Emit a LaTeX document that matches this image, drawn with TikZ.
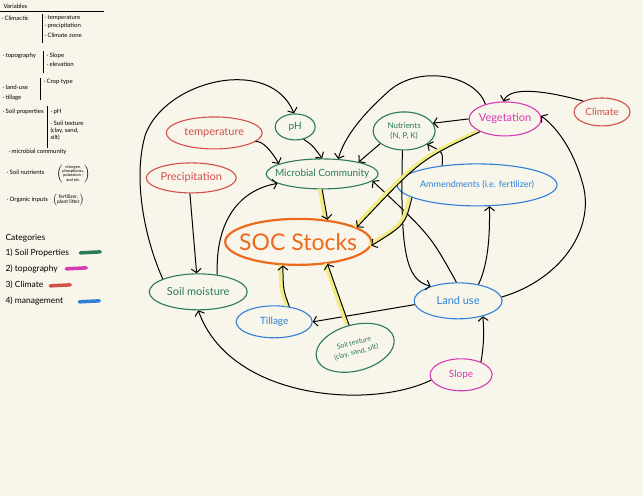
\documentclass[tikz,border=0pt]{standalone}
\usepackage{fontspec}
\setmainfont{Lato}
\usetikzlibrary{shapes,arrows.meta,calc}
\definecolor{Cream}{HTML}{F8F5EA}
\definecolor{SGreen}{HTML}{2B7A5C}
\definecolor{TPink}{HTML}{D63AB4}
\definecolor{CRed}{HTML}{D4504A}
\definecolor{MBlue}{HTML}{2F80D8}
\definecolor{SOrange}{HTML}{EC6A1E}
\definecolor{HYellow}{HTML}{F0EC80}
\tikzset{
    var/.style = {draw, ellipse, line width=1.1pt,
        inner xsep=-10pt, inner ysep=0pt, align=center},
    soil/.style = {var, draw=SGreen, text=SGreen},
    topo/.style = {var, draw=TPink, text=TPink},
    clim/.style = {var, draw=CRed, text=CRed},
    mgmt/.style = {var, draw=MBlue, text=MBlue},
    link/.style = {draw, line width=1pt, -{Straight Barb[length=4pt,width=10pt]}},
    hl/.style = {preaction={draw=HYellow, line width=3.5pt, arrows=-,
        transform canvas={shift={(-2.5pt,0.5pt)}}}},
    legend/.style = {anchor=west, inner sep=0pt, font=\fontsize{6}{7}\selectfont},
    catg/.style = {anchor=west, inner sep=0pt, font=\fontsize{8.5}{10}\selectfont},
    fs/.style = {font=\fontsize{#1}{\dimexpr #1pt*6/5\relax}\selectfont}
}

\begin{document}
\begin{tikzpicture}[x=1pt,y=-1pt]
        \fill[Cream] (0,0) rectangle (643,496);
        % variables list
        \node[legend] (varhead) at (3,6) {Variables};
        \draw[line width=0.7pt] (0,11) -- (104,11);
        \node[legend] (climactic) at (1,18) {· Climactic};
        \draw[line width=0.8pt] (42,14) -- (42,43);
        \node[legend] (v1) at (44,18) {· temperature};
        \node[legend] (v2) at (44,26) {· precipitation};
        \node[legend] (v3) at (44,35) {· Climate zone};
        \node[legend] (topogr) at (2,56) {· topography};
        \draw[line width=0.8pt] (43,51) -- (43,73);
        \node[legend] (v4) at (46,56) {· Slope};
        \node[legend] (v5) at (46,64) {· elevation};
        \node[legend] (landuse) at (2,87) {· land-use};
        \draw[line width=0.8pt] (40,78) -- (40,100);
        \node[legend] (v6) at (43,82) {· Crop type};
        \node[legend] (tillg) at (2,98) {· tillage};
        \node[legend] (soilprop) at (2,112) {· Soil properties};
        \draw[line width=0.8pt] (47,106) -- (47,148);
        \node[legend] (v7) at (50,112) {· pH};
        \node[legend, align=left] (v8) at (50,131) {· Soil texture\\(clay, sand,\\ silt)};
        \node[legend] (microb) at (8,152) {· microbial community};
        \node[legend] (soilnut) at (6,172) {· Soil nutrients};
        \node[legend, font=\fontsize{4}{4.4}\selectfont] (v9) at (56,174)
            {$\left(\begin{tabular}{@{}c@{}}nitrogen,\\phosphorus,\\potassium -\\and etc.\end{tabular}\right)$};
        \node[legend] (orgin) at (6,200) {· Organic inputs};
        \node[legend, font=\fontsize{5}{5.5}\selectfont] (v10) at (52,200)
            {$\left(\begin{tabular}{@{}c@{}}fertilizer,\\plant litter\end{tabular}\right)$};
        % categories
        \node[catg] (cats) at (5,238) {Categories};
        \node[catg] (c1) at (5,253) {1) Soil Properties};
        \node[catg] (c2) at (5,269) {2) topography};
        \node[catg] (c3) at (5,285) {3) Climate};
        \node[catg] (c4) at (5,301) {4) management};
        \foreach \col/\xx/\yy in {SGreen/80/253, TPink/66/269, CRed/50/286, MBlue/79/302}{
            \draw[\col, line width=3.5pt, line cap=round] (\xx,\yy) -- (\xx+20,\yy-1);
        }
        % variables
        \node[clim, minimum width=96, minimum height=32, fs=11] (temp) at (214,133) {temperature};
        \node[clim, minimum width=90, minimum height=30, fs=11] (precip) at (191,178) {Precipitation};
        \node[soil, minimum width=40, minimum height=26, fs=10] (ph) at (295,127) {pH};
        \node[soil, minimum width=112, minimum height=30, fs=10] (micro) at (322,174) {Microbial Community};
        \node[soil, minimum width=62, minimum height=38, fs=8] (nutr) at (404,131) {Nutrients\\(N, P, K)};
        \node[topo, minimum width=72, minimum height=34, fs=11] (veg) at (505,119) {Vegetation};
        \node[clim, minimum width=56, minimum height=28, fs=10] (climate) at (602,112) {Climate};
        \node[mgmt, minimum width=160, minimum height=42, fs=9] (amend) at (477,185) {Ammendments (i.e. fertilizer)};
        \node[var, draw=SOrange, text=SOrange, line width=2.2pt, minimum width=146, minimum height=46, fs=23] (soc) at (298,242) {SOC Stocks};
        \node[soil, minimum width=98, minimum height=36, fs=11] (moist) at (198,292) {Soil moisture};
        \node[mgmt, minimum width=76, minimum height=32, fs=10] (till) at (274,322) {Tillage};
        \node[mgmt, minimum width=88, minimum height=36, fs=11] (land) at (458,301) {Land use};
        \node[soil, minimum width=80, minimum height=46, fs=7, rotate=15] (texture) at (355,348) {Soil texture\\[1pt](clay, sand, silt)};
        \node[topo, minimum width=62, minimum height=32, fs=10] (slope) at (461,375) {Slope};
        % links
        \draw[link] (moist.160) .. controls (145,240) and (132,180) .. (145,135)
            .. controls (165,80) and (270,55) .. (ph.95);
        \draw[link] (precip.265) -- (moist.95);
        \draw[link] (temp.-12) .. controls (262,140) and (272,152) .. (micro.167);
        \draw[link] (ph.-56) .. controls (312,145) .. (micro.90);
        \draw[link] (moist.42) .. controls (215,220) and (240,190) .. (micro.192);
        \draw[link] (veg.143) .. controls (475,75) and (420,65) .. (390,90)
            .. controls (365,112) and (345,135) .. (micro.43);
        \draw[link] (nutr.208) -- (micro.18);
        \draw[link] (veg.180) -- (nutr.15);
        \draw[link] (climate.150) .. controls (550,92) and (510,85) .. (veg.95);
        \draw[link] (amend.151) .. controls (443,152) .. (nutr.-30);
        \draw[link] (nutr.265) .. controls (400,250) and (405,280) .. (land.152);
        \draw[link] (land.95) .. controls (430,235) .. (micro.-8);
        \draw[link] (land.39) .. controls (488,265) and (490,235) .. (amend.-60);
        \draw[link] (land.5) .. controls (560,280) and (595,230) .. (583,185)
            .. controls (575,155) and (560,130) .. (veg.5);
        \draw[link] (land.185) -- (till.0);
        \draw[link] (slope.33) .. controls (484,345) and (484,330) .. (land.-32);
        \draw[link] (slope.190) .. controls (370,410) and (230,400) .. (moist.270);
        % links into SOC
        \draw[link, hl] (micro.south) -- (soc.37);
        \draw[link, hl] (veg.207) .. controls (420,160) .. (soc.14);
        \draw[link, hl] (amend.191) .. controls (405,225) .. (soc.-3);
        \draw[link, hl] (till.45) .. controls (283,290) .. (soc.237);
        \draw[link, hl] (texture.north) -- (soc.-37);
        \end{tikzpicture}
\end{document}
